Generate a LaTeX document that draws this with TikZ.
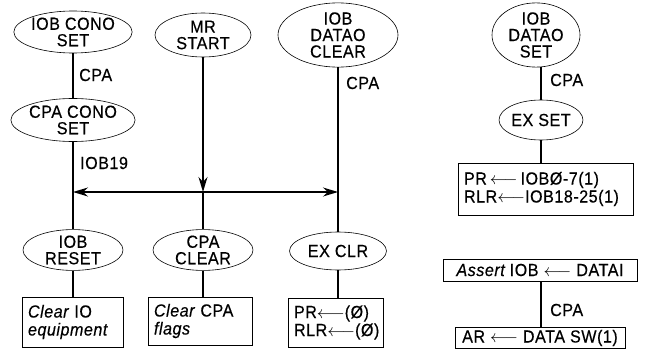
\documentclass[tikz,border=0pt]{standalone}
\usepackage{fontspec}
\setmainfont{Liberation Sans}[LetterSpace=3,FakeStretch=0.92,FakeBold=0.4]
\usetikzlibrary{shapes.geometric,arrows.meta}
\begin{document}
\begin{tikzpicture}[x=1pt,y=-1pt,
  font=\fontsize{17.5}{16.5}\selectfont,
  ell/.style={draw, ellipse, inner sep=0pt, align=center, line width=0.6pt},
  rbox/.style={draw, rectangle, inner xsep=6pt, inner ysep=0pt, align=left, line width=0.6pt,
    font=\fontsize{17.5}{18}\selectfont},
  sbox/.style={draw, rectangle, inner sep=0pt, line width=0.6pt},
  conn/.style={line width=1.5pt},
  lbl/.style={anchor=west, inner sep=0pt},
  >={Stealth[length=15pt,width=9pt]}]
\useasboundingbox (0,0) rectangle (654,353);
% top row
\node[ell, minimum width=98pt, minimum height=42pt] (cono) at (73,32) {IOB CONO\\SET};
\node[ell, minimum width=98pt, minimum height=43pt] (cpacono) at (73,120) {CPA CONO\\SET};
\node[ell, minimum width=96pt, minimum height=44pt] (mr) at (203,35) {MR\\START};
\node[ell, minimum width=120pt, minimum height=54pt] (dclear) at (338,35) {IOB\\DATAO\\CLEAR};
% junctions
\coordinate (jl) at (73,192);
\coordinate (jm) at (203,192);
\coordinate (jr) at (338,192);
% second row
\node[ell, minimum width=100pt, minimum height=40pt] (iobreset) at (73,250) {IOB\\RESET};
\node[ell, minimum width=100pt, minimum height=40pt] (cpaclear) at (203,250) {CPA\\CLEAR};
\node[ell, minimum width=97pt, minimum height=38pt] (exclr) at (338,251) {EX CLR};
% boxes
\node[rbox, text width=89pt, minimum height=50pt] (b1) at (72.5,322) {\itshape Clear \upshape IO\\\itshape equipment};
\node[rbox, text width=92pt, minimum height=48pt] (b2) at (200,321) {\itshape Clear \upshape CPA\\\itshape flags};
\node[rbox, text width=83pt, minimum height=49pt] (b3) at (335.5,322.5) {PR$\longleftarrow$(Ø)\\RLR$\longleftarrow$(Ø)};
% right side
\node[ell, minimum width=88pt, minimum height=55pt] (dset) at (536,35) {IOB\\DATAO\\SET};
\node[ell, minimum width=70pt, minimum height=40pt] (exset) at (541,120) {EX SET};
\node[rbox, text width=163pt, minimum height=52pt] (prbox) at (545.5,189) {PR\,$\longleftarrow$\,IOBØ-7(1)\\RLR$\longleftarrow$IOB18-25(1)};
\node[sbox, minimum width=194pt, minimum height=22pt] (assert) at (540,270) {\itshape Assert \upshape IOB $\longleftarrow$ DATAI};
\node[sbox, minimum width=170pt, minimum height=21pt] (ar) at (540,338) {AR $\longleftarrow$ DATA SW(1)};
% connectors
\draw[conn] (cono) -- (cpacono);
\draw[conn] (cpacono) -- (iobreset);
\draw[conn] (dclear) -- (exclr);
\draw[conn,->] (mr) -- (jm);
\draw[conn,<->] (jl) -- (jr);
\draw[conn] (jm) -- (cpaclear);
\draw[conn] (iobreset) -- (iobreset |- b1.north);
\draw[conn] (cpaclear) -- (cpaclear |- b2.north);
\draw[conn] (exclr) -- (exclr |- b3.north);
\draw[conn] (dset.south -| exset) -- (exset);
\draw[conn] (exset) -- (exset |- prbox.north);
\draw[conn] (assert.south -| exset) -- (ar.north -| exset);
% labels
\node[lbl] (l1) at (79,75) {CPA};
\node[lbl] (l2) at (80,163) {IOB19};
\node[lbl] (l3) at (346,83) {CPA};
\node[lbl] (l4) at (550,80) {CPA};
\node[lbl] (l5) at (550,310) {CPA};
\end{tikzpicture}
\end{document}
